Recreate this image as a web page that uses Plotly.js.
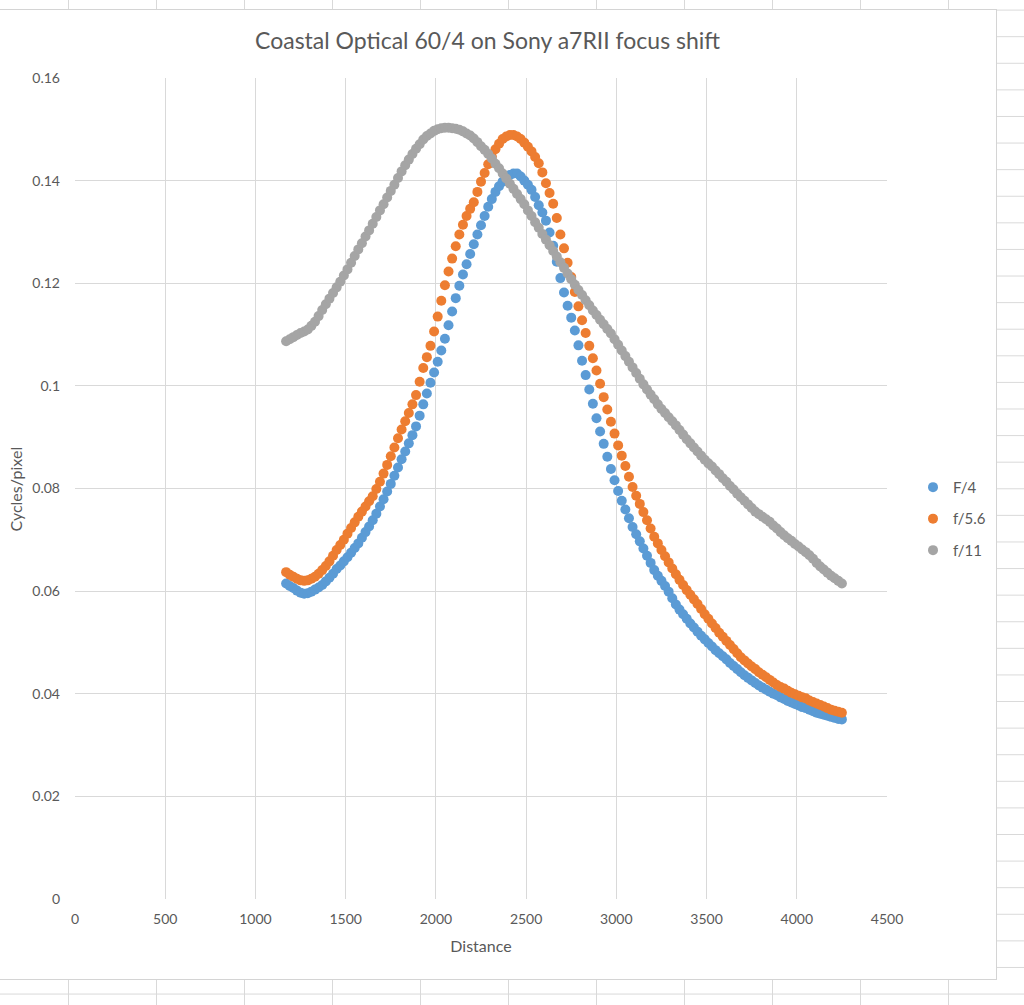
<!DOCTYPE html>
<html>
<head>
<meta charset="utf-8">
<script src="https://cdn.plot.ly/plotly-3.0.1.min.js"></script>
<style>
  html, body {
    margin: 0;
    padding: 0;
    width: 1024px;
    height: 1005px;
    overflow: hidden;
    background-color: #ffffff;
    background-image:
      linear-gradient(to right, #d9d9d9 1px, transparent 1px),
      linear-gradient(to bottom, #d9d9d9 1px, transparent 1px);
    background-size: 88px 26.6px;
    background-position: 68px 9.6px;
  }
  #frame {
    position: absolute;
    left: 0;
    top: 9px;
    width: 996px;
    height: 969px;
    background: #ffffff;
    border-top: 1px solid #d4d4d4;
    border-right: 1px solid #d4d4d4;
    border-bottom: 1px solid #d4d4d4;
  }
  #chart { width: 996px; height: 969px; }
</style>
</head>
<body>
<div id="frame"><div id="chart"></div></div>
<script>
// distance readings shared by all three apertures
const distance = [
  1170, 1190, 1210, 1230, 1250, 1270, 1290, 1310, 1330, 1350,
  1370, 1390, 1410, 1430, 1450, 1470, 1490, 1510, 1530, 1550,
  1570, 1590, 1610, 1630, 1650, 1670, 1690, 1710, 1730, 1750,
  1770, 1790, 1810, 1830, 1850, 1870, 1890, 1910, 1930, 1950,
  1970, 1990, 2010, 2030, 2050, 2070, 2090, 2110, 2130, 2150,
  2170, 2190, 2210, 2230, 2250, 2270, 2290, 2310, 2330, 2350,
  2370, 2390, 2410, 2430, 2450, 2470, 2490, 2510, 2530, 2550,
  2570, 2590, 2610, 2630, 2650, 2670, 2690, 2710, 2730, 2750,
  2770, 2790, 2810, 2830, 2850, 2870, 2890, 2910, 2930, 2950,
  2970, 2990, 3010, 3030, 3050, 3070, 3090, 3110, 3130, 3150,
  3170, 3190, 3210, 3230, 3250, 3270, 3290, 3310, 3330, 3350,
  3370, 3390, 3410, 3430, 3450, 3470, 3490, 3510, 3530, 3550,
  3570, 3590, 3610, 3630, 3650, 3670, 3690, 3710, 3730, 3750,
  3770, 3790, 3810, 3830, 3850, 3870, 3890, 3910, 3930, 3950,
  3970, 3990, 4010, 4030, 4050, 4070, 4090, 4110, 4130, 4150,
  4170, 4190, 4210, 4230, 4250
];

const f4 = [
  0.0615, 0.0610, 0.0606, 0.0601, 0.0597, 0.0595, 0.0596, 0.0599, 0.0603, 0.0607,
  0.0612, 0.0619, 0.0626, 0.0634, 0.0643, 0.0650, 0.0658, 0.0666, 0.0675, 0.0684,
  0.0693, 0.0704, 0.0715, 0.0726, 0.0738, 0.0751, 0.0765, 0.0779, 0.0794, 0.0809,
  0.0825, 0.0841, 0.0857, 0.0872, 0.0888, 0.0904, 0.0921, 0.0942, 0.0964, 0.0985,
  0.1006, 0.1026, 0.1047, 0.1069, 0.1092, 0.1118, 0.1145, 0.1171, 0.1195, 0.1217,
  0.1237, 0.1257, 0.1276, 0.1295, 0.1313, 0.1331, 0.1349, 0.1364, 0.1378, 0.1389,
  0.1398, 0.1405, 0.1411, 0.1414, 0.1414, 0.1408, 0.1400, 0.1392, 0.1382, 0.1368,
  0.1352, 0.1338, 0.1322, 0.1299, 0.1273, 0.1242, 0.1210, 0.1182, 0.1156, 0.1133,
  0.1108, 0.1079, 0.1049, 0.1021, 0.0993, 0.0965, 0.0937, 0.0911, 0.0887, 0.0862,
  0.0838, 0.0816, 0.0795, 0.0776, 0.0759, 0.0742, 0.0725, 0.0711, 0.0697, 0.0683,
  0.0669, 0.0655, 0.0641, 0.0630, 0.0620, 0.0610, 0.0599, 0.0586, 0.0574, 0.0564,
  0.0555, 0.0546, 0.0537, 0.0529, 0.0521, 0.0513, 0.0506, 0.0499, 0.0492, 0.0485,
  0.0479, 0.0473, 0.0467, 0.0460, 0.0454, 0.0448, 0.0442, 0.0436, 0.0431, 0.0426,
  0.0421, 0.0416, 0.0412, 0.0408, 0.0404, 0.0400, 0.0397, 0.0393, 0.0390, 0.0386,
  0.0383, 0.0380, 0.0377, 0.0374, 0.0372, 0.0369, 0.0366, 0.0363, 0.0361, 0.0359,
  0.0357, 0.0355, 0.0353, 0.0351, 0.0350
];

const f56 = [
  0.0637, 0.0632, 0.0628, 0.0624, 0.0621, 0.0620, 0.0621, 0.0624, 0.0628, 0.0634,
  0.0641, 0.0649, 0.0658, 0.0669, 0.0680, 0.0690, 0.0700, 0.0712, 0.0723, 0.0734,
  0.0745, 0.0755, 0.0765, 0.0775, 0.0785, 0.0799, 0.0813, 0.0829, 0.0846, 0.0863,
  0.0880, 0.0898, 0.0915, 0.0931, 0.0947, 0.0964, 0.0982, 0.1008, 0.1035, 0.1056,
  0.1078, 0.1106, 0.1135, 0.1166, 0.1196, 0.1223, 0.1248, 0.1272, 0.1295, 0.1314,
  0.1331, 0.1345, 0.1358, 0.1378, 0.1398, 0.1415, 0.1432, 0.1447, 0.1461, 0.1472,
  0.1481, 0.1486, 0.1489, 0.1489, 0.1486, 0.1481, 0.1474, 0.1466, 0.1457, 0.1446,
  0.1434, 0.1416, 0.1395, 0.1376, 0.1355, 0.1327, 0.1295, 0.1268, 0.1240, 0.1212,
  0.1183, 0.1155, 0.1128, 0.1103, 0.1078, 0.1054, 0.1030, 0.1004, 0.0978, 0.0954,
  0.0930, 0.0907, 0.0884, 0.0864, 0.0844, 0.0823, 0.0803, 0.0786, 0.0770, 0.0754,
  0.0738, 0.0722, 0.0706, 0.0693, 0.0680, 0.0668, 0.0656, 0.0644, 0.0633, 0.0622,
  0.0612, 0.0602, 0.0593, 0.0584, 0.0575, 0.0565, 0.0555, 0.0546, 0.0537, 0.0528,
  0.0519, 0.0511, 0.0503, 0.0495, 0.0487, 0.0479, 0.0471, 0.0465, 0.0459, 0.0453,
  0.0448, 0.0442, 0.0437, 0.0432, 0.0427, 0.0422, 0.0417, 0.0413, 0.0410, 0.0406,
  0.0402, 0.0399, 0.0396, 0.0393, 0.0391, 0.0387, 0.0384, 0.0381, 0.0378, 0.0375,
  0.0372, 0.0369, 0.0367, 0.0365, 0.0363
];

const f11 = [
  0.1087, 0.1091, 0.1095, 0.1099, 0.1103, 0.1106, 0.1110, 0.1117, 0.1125, 0.1136,
  0.1148, 0.1159, 0.1170, 0.1181, 0.1192, 0.1203, 0.1215, 0.1227, 0.1240, 0.1253,
  0.1266, 0.1278, 0.1291, 0.1303, 0.1316, 0.1329, 0.1342, 0.1354, 0.1367, 0.1380,
  0.1392, 0.1405, 0.1418, 0.1430, 0.1441, 0.1452, 0.1462, 0.1471, 0.1480, 0.1487,
  0.1492, 0.1497, 0.1500, 0.1502, 0.1503, 0.1503, 0.1502, 0.1501, 0.1499, 0.1496,
  0.1492, 0.1488, 0.1482, 0.1475, 0.1467, 0.1460, 0.1452, 0.1443, 0.1433, 0.1424,
  0.1414, 0.1404, 0.1394, 0.1384, 0.1374, 0.1364, 0.1354, 0.1342, 0.1331, 0.1319,
  0.1308, 0.1296, 0.1285, 0.1274, 0.1263, 0.1252, 0.1241, 0.1230, 0.1219, 0.1208,
  0.1197, 0.1187, 0.1177, 0.1167, 0.1157, 0.1147, 0.1138, 0.1129, 0.1120, 0.1111,
  0.1102, 0.1091, 0.1080, 0.1069, 0.1058, 0.1047, 0.1036, 0.1025, 0.1014, 0.1003,
  0.0993, 0.0983, 0.0974, 0.0964, 0.0955, 0.0947, 0.0939, 0.0931, 0.0923, 0.0914,
  0.0905, 0.0896, 0.0888, 0.0880, 0.0872, 0.0864, 0.0856, 0.0849, 0.0843, 0.0835,
  0.0828, 0.0820, 0.0813, 0.0805, 0.0798, 0.0790, 0.0783, 0.0776, 0.0769, 0.0762,
  0.0755, 0.0750, 0.0745, 0.0740, 0.0735, 0.0728, 0.0722, 0.0715, 0.0709, 0.0703,
  0.0698, 0.0692, 0.0687, 0.0681, 0.0676, 0.0670, 0.0663, 0.0655, 0.0648, 0.0642,
  0.0636, 0.0630, 0.0625, 0.0620, 0.0615
];

const seriesNames = ['F/4', 'f/5.6', 'f/11'];
const seriesColors = ['#5B9BD5', '#ED7D31', '#A5A5A5'];

const xTickVals = [0, 500, 1000, 1500, 2000, 2500, 3000, 3500, 4000, 4500];
const yTickVals = [0, 0.02, 0.04, 0.06, 0.08, 0.1, 0.12, 0.14, 0.16];
const yTickText = ['0', '0.02', '0.04', '0.06', '0.08', '0.1', '0.12', '0.14', '0.16'];

const textColor = '#595959';
const gridColor = '#d9d9d9';
const fontFamily = 'Lato, "Liberation Sans", sans-serif';

const data = [f4, f56, f11].map((vals, i) => ({
  x: distance,
  y: vals,
  type: 'scatter',
  mode: 'markers',
  name: seriesNames[i],
  legendgroup: 'g' + i,
  marker: { color: seriesColors[i], size: 10 }
}));

const layout = {
  width: 996,
  height: 969,
  margin: { l: 75, r: 109, t: 68, b: 80 },
  paper_bgcolor: 'rgba(0,0,0,0)',
  plot_bgcolor: '#ffffff',
  font: { family: fontFamily, color: textColor, size: 14 },
  title: {
    text: 'Coastal Optical 60/4 on Sony a7RII focus shift',
    font: { family: fontFamily, size: 23, color: textColor },
    xref: 'container', x: 0.4895, xanchor: 'center',
    yref: 'container', y: 1 - 31 / 969, yanchor: 'middle'
  },
  xaxis: {
    range: [0, 4500],
    tickvals: xTickVals,
    ticks: '',
    ticklabelstandoff: 10,
    showline: false,
    zeroline: false,
    gridcolor: gridColor,
    gridwidth: 1,
    tickfont: { size: 14, color: textColor },
    title: { text: 'Distance', font: { size: 16, color: textColor }, standoff: 14 }
  },
  yaxis: {
    range: [0, 0.16],
    tickvals: yTickVals,
    ticktext: yTickText,
    ticks: '',
    ticklabelstandoff: 14,
    showline: false,
    zeroline: false,
    gridcolor: gridColor,
    gridwidth: 1,
    tickfont: { size: 14, color: textColor }
  },
  // y axis title placed by hand so it sits near the chart edge as in Excel
  annotations: [{
    text: 'Cycles/pixel',
    xref: 'paper', x: (15 - 75) / 812, xanchor: 'center',
    yref: 'paper', y: 0.5, yanchor: 'middle',
    textangle: -90,
    showarrow: false,
    font: { size: 16, color: textColor }
  }],
  legend: {
    xref: 'container', x: 913 / 996, xanchor: 'left',
    yref: 'paper', y: 0.463, yanchor: 'middle',
    font: { size: 15, color: textColor },
    tracegroupgap: 9,
    itemwidth: 30,
    bgcolor: 'rgba(0,0,0,0)'
  },
  showlegend: true
};

Plotly.newPlot('chart', data, layout, { displayModeBar: false, staticPlot: true });
</script>
</body>
</html>
